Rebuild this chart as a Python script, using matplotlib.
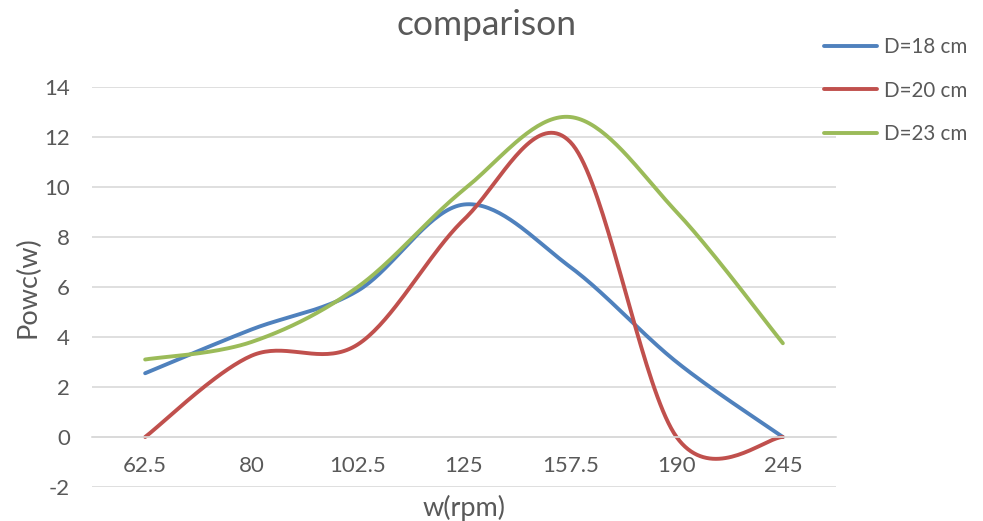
import numpy as np
import matplotlib
matplotlib.use("Agg")
from matplotlib import pyplot as plt

# category labels (w in rpm) and measured power per diameter
speeds = ['62.5', '80', '102.5', '125', '157.5', '190', '245']
d18 = [2.55, 4.3, 5.85, 9.3, 6.8, 3.0, 0.0]
d20 = [0.0, 3.25, 3.7, 8.7, 11.8, 0.0, 0.0]
d23 = [3.1, 3.8, 6.0, 9.9, 12.8, 9.0, 3.75]

series = [('D=18 cm', d18, '#4F81BD'),
          ('D=20 cm', d20, '#C0504D'),
          ('D=23 cm', d23, '#9BBB59')]


def smooth(x, y, n=40):
    # Excel-like smoothed line (Catmull-Rom style bezier segments)
    x = np.asarray(x, float)
    y = np.asarray(y, float)
    px = np.concatenate([[x[0]], x, [x[-1]]])
    py = np.concatenate([[y[0]], y, [y[-1]]])
    xs, ys = [], []
    t = np.linspace(0, 1, n)
    for i in range(1, len(px) - 2):
        p0 = np.array([px[i], py[i]])
        p3 = np.array([px[i + 1], py[i + 1]])
        p1 = p0 + (np.array([px[i + 1], py[i + 1]]) - np.array([px[i - 1], py[i - 1]])) / 6
        p2 = p3 - (np.array([px[i + 2], py[i + 2]]) - np.array([px[i], py[i]])) / 6
        b = ((1 - t) ** 3)[:, None] * p0 + (3 * (1 - t) ** 2 * t)[:, None] * p1 \
            + (3 * (1 - t) * t ** 2)[:, None] * p2 + (t ** 3)[:, None] * p3
        xs.extend(b[:, 0])
        ys.extend(b[:, 1])
    return np.array(xs), np.array(ys)


plt.rcParams['font.family'] = ['Lato', 'DejaVu Sans']
plt.rcParams['axes.unicode_minus'] = False
grey = '#595959'

fig = plt.figure(figsize=(9.83, 5.21), dpi=100)
ax = fig.add_axes([92 / 983, 34 / 521, 744 / 983, 400 / 521])

xpos = np.arange(len(speeds))
for name, vals, col in series:
    sx, sy = smooth(xpos, vals)
    ax.plot(sx, sy, color=col, lw=2.8, label=name, solid_capstyle='round')

ax.set_xlim(-0.5, len(speeds) - 0.5)
ax.set_ylim(-2, 14)
ax.set_yticks(np.arange(-2, 15, 2))
ax.set_xticks(xpos)
ax.set_xticklabels(speeds)
ax.grid(axis='y', color='#d9d9d9', lw=1.2)
ax.set_axisbelow(True)
for s in ['top', 'right', 'left']:
    ax.spines[s].set_visible(False)
ax.spines['bottom'].set_position(('data', 0))
ax.spines['bottom'].set_color('#d9d9d9')
ax.spines['bottom'].set_linewidth(1.2)
ax.tick_params(axis='x', length=0, pad=14, labelsize=16, colors=grey)
ax.tick_params(axis='y', length=0, pad=16, labelsize=16, colors=grey)

fig.text(487 / 983, 1 - 25 / 521, 'comparison', ha='center', va='center', fontsize=25.5, color=grey)
fig.text(464 / 983, 1 - 508 / 521, 'w(rpm)', ha='center', va='center', fontsize=19.5, color=grey)
fig.text(28 / 983, 1 - 287 / 521, 'Powc(w)', ha='center', va='center', rotation=90, fontsize=19.5, color=grey)

fig.legend(loc='upper left', bbox_to_anchor=(824 / 983, 1 - 37 / 521), frameon=False,
           borderpad=0, borderaxespad=0,
           fontsize=14.8, labelcolor=grey, handlelength=2.6, handletextpad=0.3,
           labelspacing=1.15)

fig.savefig('out.png', dpi=100)
